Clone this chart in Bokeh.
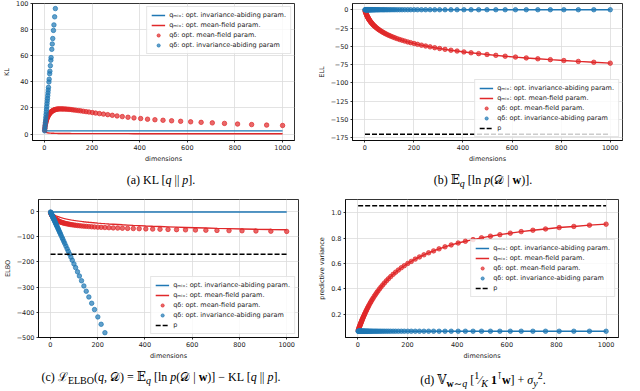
from bokeh.plotting import figure
from bokeh.models import Range1d, FixedTicker, Legend, LegendItem, Div
from bokeh.layouts import column, row
from bokeh.embed import file_html
from bokeh.resources import INLINE

# ---------------- data ----------------
dims = [1, 2, 3, 4, 5, 6, 7, 8, 9, 10, 11, 12, 13, 14, 15, 16, 17, 19, 20, 22, 23, 25, 27, 28,
        31, 33, 35, 38, 40, 43, 46, 50, 53, 57, 61, 66, 71, 76, 81, 87, 93, 100, 107, 115,
        123, 132, 142, 152, 163, 175, 187, 201, 215, 231, 248, 266, 285, 305, 327, 351, 376,
        404, 433, 464, 498, 534, 572, 614, 658, 705, 756, 811, 870, 933, 1000]

# KL[q || p]
kl_mix_invariant = 2.5          # flat level of the blue line
kl_mix_meanfield = [2.6, 2.3, 2.0, 1.8, 1.6, 1.5, 1.4, 1.3, 1.2, 1.15, 1.1, 1.05, 1.0, 0.97, 0.94,
                    0.91, 0.88, 0.84, 0.82, 0.78, 0.76, 0.73, 0.71, 0.70, 0.67, 0.65, 0.63, 0.61,
                    0.60, 0.58, 0.56, 0.54, 0.53, 0.51, 0.50, 0.48, 0.47, 0.46, 0.45, 0.44, 0.43,
                    0.42, 0.41, 0.40, 0.40, 0.39, 0.38, 0.38, 0.37, 0.37, 0.36, 0.36, 0.35, 0.35,
                    0.34, 0.34, 0.34, 0.33, 0.33, 0.33, 0.32, 0.32, 0.32, 0.31, 0.31, 0.31, 0.31,
                    0.30, 0.30, 0.30, 0.30, 0.30, 0.29, 0.29, 0.29]
kl_delta_meanfield = [3.0, 4.5, 5.8, 7.0, 8.0, 8.9, 9.7, 10.4, 11.0, 11.6, 12.1, 12.6, 13.0, 13.4,
                      13.8, 14.1, 14.4, 15.0, 15.3, 15.8, 16.0, 16.4, 16.8, 17.0, 17.4, 17.7, 17.9,
                      18.2, 18.4, 18.6, 18.8, 19.0, 19.1, 19.2, 19.3, 19.3, 19.3, 19.3, 19.2, 19.2,
                      19.1, 19.0, 18.9, 18.7, 18.5, 18.3, 18.0, 17.8, 17.5, 17.2, 16.9, 16.5, 16.1,
                      15.7, 15.3, 14.9, 14.4, 13.9, 13.4, 12.9, 12.4, 11.9, 11.4, 11.0, 10.6, 10.2,
                      9.8, 9.4, 9.0, 8.6, 8.2, 7.7, 7.3, 6.9, 6.6]
kl_delta_invariant = [2.5, 4.6, 6.6, 8.7, 10.8, 12.9, 15.0, 17.0, 19.1, 21.2, 23.3, 25.4, 27.4, 29.5,
                      31.6, 33.7, 35.8, 39.9, 42.0, 46.2, 48.2, 52.4, 56.6, 58.6, 64.9, 69.0, 73.2,
                      79.4, 83.6, 89.8, 96.1, 104.4, 110.6, 119.0, 127.3, 137.7, 148.1, 158.5, 168.9,
                      181.4, 193.8, 208.4, 223.0, 239.6, 256.2, 275.0, 295.8, 316.6, 339.4, 364.4,
                      389.4, 418.5, 447.6, 480.9, 516.2, 553.7, 593.2, 634.8, 680.6, 730.5, 782.5,
                      840.7, 901.0, 965.5, 1036.2, 1111.1, 1190.2, 1277.5, 1369.0, 1466.8, 1572.9,
                      1687.3, 1810.0, 1941.0, 2080.4]

# E_q[ln p(D | w)]
ell_invariant = 0.0
ell_meanfield = [-1.12, -2.17, -3.15, -4.09, -4.98, -5.82, -6.63, -7.39, -8.13, -8.84, -9.52, -10.17,
                 -10.80, -11.41, -11.99, -12.56, -13.11, -14.16, -14.66, -15.62, -16.08, -16.97,
                 -17.81, -18.22, -19.39, -20.12, -20.83, -21.84, -22.48, -23.40, -24.27, -25.37,
                 -26.15, -27.14, -28.07, -29.17, -30.21, -31.19, -32.11, -33.16, -34.15, -35.24,
                 -36.26, -37.36, -38.39, -39.49, -40.62, -41.69, -42.80, -43.92, -44.98, -46.14,
                 -47.23, -48.39, -49.55, -50.69, -51.83, -52.94, -54.09, -55.27, -56.41, -57.61,
                 -58.76, -59.92, -61.11, -62.28, -63.44, -64.63, -65.80, -66.97, -68.15, -69.35,
                 -70.54, -71.73, -72.91]
ell_prior = -170.0

# predictive variance
var_invariant = 0.065
var_meanfield = [0.071, 0.076, 0.082, 0.088, 0.093, 0.099, 0.104, 0.109, 0.115, 0.120, 0.125, 0.130,
                 0.135, 0.140, 0.145, 0.150, 0.155, 0.164, 0.169, 0.178, 0.182, 0.191, 0.200, 0.204,
                 0.217, 0.225, 0.233, 0.245, 0.253, 0.264, 0.275, 0.289, 0.299, 0.313, 0.325, 0.341,
                 0.355, 0.370, 0.383, 0.399, 0.414, 0.430, 0.446, 0.463, 0.479, 0.496, 0.514, 0.531,
                 0.548, 0.566, 0.582, 0.600, 0.616, 0.634, 0.651, 0.668, 0.684, 0.699, 0.715, 0.731,
                 0.746, 0.761, 0.775, 0.788, 0.802, 0.815, 0.827, 0.839, 0.851, 0.862, 0.872, 0.883,
                 0.892, 0.902, 0.910]
var_prior = 1.055

x_ticks = [0, 200, 400, 600, 800, 1000]

labels = {
    "mix_inv": "q\u2098\u1d62\u2093: opt. invariance-abiding param.",
    "mix_mf": "q\u2098\u1d62\u2093: opt. mean-field param.",
    "delta_mf": "q\u03b4: opt. mean-field param.",
    "delta_inv": "q\u03b4: opt. invariance-abiding param",
    "prior": "p",
}

n = len(dims)
# ELBO = ELL - KL (definition in caption (c))
elbo_mix_invariant = [ell_invariant - kl_mix_invariant] * n
elbo_mix_meanfield = [e - k for e, k in zip(ell_meanfield, kl_mix_meanfield)]
elbo_delta_meanfield = [e - k for e, k in zip(ell_meanfield, kl_delta_meanfield)]
elbo_delta_invariant = [ell_invariant - k for k in kl_delta_invariant]

BLUE = "#1f77b4"
RED = "#e0282a"
FONT = "DejaVu Sans"


def minus(v):
    s = ("%g" % v)
    return s.replace("-", "\u2212")


def make_fig(yr, yticks, ylabel, borders, ylabels=None):
    left, right, top, bottom = borders
    p = figure(width=312, height=165, x_range=Range1d(-50, 1050), y_range=Range1d(*yr),
               output_backend="svg", toolbar_location=None,
               min_border_left=left, min_border_right=right,
               min_border_top=top, min_border_bottom=bottom)
    p.title.visible = False
    p.xaxis.ticker = FixedTicker(ticks=x_ticks)
    p.yaxis.ticker = FixedTicker(ticks=yticks)
    if ylabels is None:
        ylabels = {t: minus(t) for t in yticks}
    p.yaxis.major_label_overrides = ylabels
    p.xaxis.axis_label = "dimensions"
    p.yaxis.axis_label = ylabel
    for ax in p.axis:
        ax.major_label_text_font = FONT
        ax.major_label_text_font_size = "6.5px"
        ax.major_label_text_color = "#222222"
        ax.axis_label_text_font = FONT
        ax.axis_label_text_font_size = "6.5px"
        ax.axis_label_text_font_style = "normal"
        ax.axis_label_text_color = "#222222"
        ax.major_tick_out = 2
        ax.major_tick_in = 0
        ax.minor_tick_out = 0
        ax.minor_tick_in = 0
        ax.major_label_standoff = 2
        ax.axis_label_standoff = 2
        ax.axis_line_color = "black"
        ax.axis_line_width = 0.8
        ax.major_tick_line_width = 0.8
    p.outline_line_color = "black"
    p.outline_line_width = 0.8
    p.outline_line_alpha = 1.0
    p.grid.grid_line_color = "#dcdcdc"
    p.grid.grid_line_width = 0.8
    return p


def add_series(p, mix_inv, mix_mf, d_mf, d_inv, prior, loc):
    r1 = p.line(dims, mix_inv, line_color=BLUE, line_width=1.4)
    r2 = p.line(dims, mix_mf, line_color=RED, line_width=1.4)
    r3 = p.scatter(dims, d_mf, size=4.5, fill_color=RED, line_color=RED, fill_alpha=0.7, line_alpha=0.7)
    r4 = p.scatter(dims, d_inv, size=4.5, fill_color=BLUE, line_color=BLUE, fill_alpha=0.7, line_alpha=0.7)
    items = [LegendItem(label=labels["mix_inv"], renderers=[r1]),
             LegendItem(label=labels["mix_mf"], renderers=[r2]),
             LegendItem(label=labels["delta_mf"], renderers=[r3]),
             LegendItem(label=labels["delta_inv"], renderers=[r4])]
    if prior is not None:
        r5 = p.line(dims, [prior] * n, line_color="black", line_width=1.4, line_dash="5 2")
        items.append(LegendItem(label=labels["prior"], renderers=[r5]))
    leg = Legend(items=items, location=loc)
    leg.label_text_font = FONT
    leg.label_text_font_size = "6.5px"
    leg.label_text_color = "#222222"
    leg.label_height = 8
    leg.glyph_height = 8
    leg.glyph_width = 14
    leg.spacing = 2
    leg.padding = 4
    leg.margin = 3
    leg.label_standoff = 4
    leg.border_line_color = "#cccccc"
    leg.border_line_width = 0.8
    leg.background_fill_color = "white"
    leg.background_fill_alpha = 0.8
    p.add_layout(leg)


# (a) KL
fa = make_fig((-4.9, 100), [0, 20, 40, 60, 80, 100], "KL", (26, 18, 3, 24))
add_series(fa, [kl_mix_invariant] * n, kl_mix_meanfield, kl_delta_meanfield, kl_delta_invariant,
           None, "top_right")

# (b) ELL
fb = make_fig((-178.5, 8.5), [0, -25, -50, -75, -100, -125, -150, -175], "ELL", (40, 2, 1, 24))
add_series(fb, [ell_invariant] * n, ell_meanfield, ell_meanfield, [ell_invariant] * n,
           ell_prior, "bottom_right")

# (c) ELBO
fc = make_fig((-500, 47), [0, -100, -200, -300, -400, -500], "ELBO", (31, 14, 2, 24))
add_series(fc, elbo_mix_invariant, elbo_mix_meanfield, elbo_delta_meanfield, elbo_delta_invariant,
           ell_prior, "bottom_right")

# (d) predictive variance
vt = [0.2, 0.4, 0.6, 0.8, 1.0]
fd = make_fig((0.0155, 1.1045), vt, "predictive variance", (33, 6, 2, 24),
              {0.2: "0.2", 0.4: "0.4", 0.6: "0.6", 0.8: "0.8", 1.0: "1.0"})
add_series(fd, [var_invariant] * n, var_meanfield, var_meanfield, [var_invariant] * n,
           var_prior, "right")

CAP_STYLE = {"font-family": "'Liberation Serif', 'DejaVu Serif', serif", "font-size": "12px",
             "text-align": "center", "color": "black", "line-height": "1", "padding-top": "4px"}


def caption(html):
    return Div(text=html, width=312, height=22, styles=dict(CAP_STYLE))


ca = caption("(a) KL [<i>q</i> || <i>p</i>].")
cb = caption("(b) \U0001D53C<sub><i>q</i></sub> [ln <i>p</i>(\U0001D49F | <b>w</b>)].")
cc = caption("(c) \u2112<sub>ELBO</sub>(<i>q</i>, \U0001D49F) = \U0001D53C<sub><i>q</i></sub> "
             "[ln <i>p</i>(\U0001D49F | <b>w</b>)] \u2212 KL [<i>q</i> || <i>p</i>].")
cd = caption("(d) \U0001D54D<sub><b>w</b>\u223C<i>q</i></sub> [<sup>1</sup>\u2044<sub><i>K</i></sub> "
             "<b>1</b><sup>\u22BA</sup><b>w</b>] + <i>\u03C3</i><sub><i>y</i></sub><sup>2</sup>.")

layout = column(row(fa, fb), row(ca, cb), row(fc, fd), row(cc, cd))

open("out.html", "w").write(file_html(layout, INLINE))
